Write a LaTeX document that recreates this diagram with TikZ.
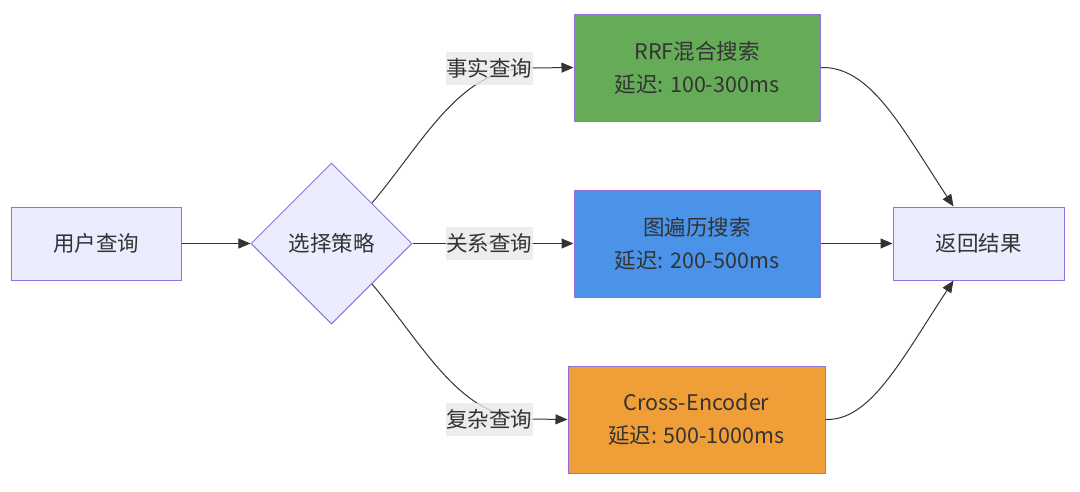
\documentclass[tikz,border=0pt]{standalone}
\usepackage{fontspec}
\setmainfont{Noto Sans CJK SC}
\usetikzlibrary{shapes.geometric,arrows.meta}
\definecolor{bord}{HTML}{9370DB}
\definecolor{lav}{HTML}{ECECFF}
\definecolor{txt}{HTML}{333333}
\definecolor{gr}{HTML}{66AB58}
\definecolor{bl}{HTML}{4A93E8}
\definecolor{og}{HTML}{F09F38}
\definecolor{lbl}{HTML}{E8E8E8}
\tikzset{
  base/.style={draw=bord, line width=1pt, text=txt, font=\fontsize{21.5}{33}\selectfont, align=center, inner sep=0pt},
  plain/.style={base, fill=lav, minimum width=170pt, minimum height=73pt},
  proc/.style={base, minimum width=246pt, minimum height=107pt},
  dec/.style={base, fill=lav, diamond, aspect=1, minimum width=161pt, minimum height=161pt},
  conn/.style={draw=txt, line width=1pt, -{Triangle[length=12pt,width=10pt]}},
  elabel/.style={fill=lbl, fill opacity=0.8, text opacity=1, text=txt, font=\fontsize{21.5}{26}\selectfont, inner xsep=0.5pt, inner ysep=0pt, minimum height=33pt},
}
\begin{document}
\begin{tikzpicture}[x=1pt,y=-1pt]
\useasboundingbox (0,0) rectangle (1080,491);
\node[plain] (q) at (96,243.5) {用户查询};
\node[dec] (d) at (331.5,243.5) {选择策略};
\node[proc, fill=gr] (rrf) at (697,67.5) {RRF混合搜索\\延迟: 100-300ms};
\node[proc, fill=bl] (g) at (697,243.5) {图遍历搜索\\延迟: 200-500ms};
\node[proc, fill=og, minimum width=257pt] (ce) at (696.5,419.5) {Cross-Encoder\\延迟: 500-1000ms};
\node[plain, minimum width=171pt] (r) at (978.5,243.5) {返回结果};

\draw[conn] (q) -- (d);
\draw[conn] (d.north east) .. controls (425,140) and (460,68) .. (530,68) -- (rrf.west);
\draw[conn] (d.east) -- (g.west);
\draw[conn] (d.south east) .. controls (425,347) and (460,419) .. (530,419) -- (ce.west);
\node[elabel] (l1) at (489,68) {事实查询};
\node[elabel] (l2) at (489,243.5) {关系查询};
\node[elabel] (l3) at (489,419) {复杂查询};

\draw[conn] (rrf.east) .. controls (870,66) and (900,125) .. ([xshift=-25pt]r.north);
\draw[conn] (g.east) -- (r.west);
\draw[conn] (ce.east) .. controls (870,421) and (900,362) .. ([xshift=-25pt]r.south);
\end{tikzpicture}
\end{document}
